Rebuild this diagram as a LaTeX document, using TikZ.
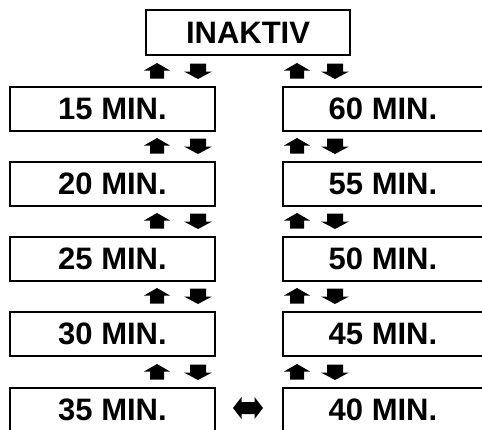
\documentclass[tikz,border=0pt]{standalone}
\usepackage{fontspec}
\setmainfont{Liberation Sans}
\begin{document}
\begin{tikzpicture}[x=1bp,y=1bp,
  box/.style={draw=black,line width=1.3bp,minimum height=44bp,inner sep=0pt,
    font=\fontsize{31bp}{34bp}\selectfont\bfseries},
  lbox/.style={box,minimum width=205bp},
  rbox/.style={box,minimum width=200bp},
  uparr/.pic={\fill (0,8) -- (13,0.5) -- (7,0.5) -- (7,-7.5) -- (-7,-7.5) -- (-7,0.5) -- (-13,0.5) -- cycle;},
  dnarr/.pic={\fill (0,-8) -- (14,-0.5) -- (8,-0.5) -- (8,7.5) -- (-8,7.5) -- (-8,-0.5) -- (-14,-0.5) -- cycle;},
  lrarr/.pic={\fill (-15,0) -- (-6.5,11) -- (-6.5,6) -- (6.5,6) -- (6.5,11) -- (15,0) -- (6.5,-11) -- (6.5,-6) -- (-6.5,-6) -- (-6.5,-11) -- cycle;}
]
\useasboundingbox (0,0) rectangle (482,-429);
\clip (0,0) rectangle (482,-429);
\node[box,minimum width=204bp,minimum height=45bp] (inaktiv) at (248,-32.5) {INAKTIV};
\node[lbox] (l1) at (112.5,-109) {15 MIN.};
\node[lbox] (l2) at (112.5,-184) {20 MIN.};
\node[lbox] (l3) at (112.5,-259) {25 MIN.};
\node[lbox] (l4) at (112.5,-334) {30 MIN.};
\node[lbox] (l5) at (112.5,-410) {35 MIN.};
\node[rbox] (r1) at (383,-109) {60 MIN.};
\node[rbox] (r2) at (383,-184) {55 MIN.};
\node[rbox] (r3) at (383,-259) {50 MIN.};
\node[rbox] (r4) at (383,-334) {45 MIN.};
\node[rbox] (r5) at (383,-410) {40 MIN.};
\foreach \y in {71,146,221,296,372}{
  \pic at (157,-\y) {uparr};
  \pic at (198,-\y) {dnarr};
  \pic at (297,-\y) {uparr};
  \pic at (335,-\y) {dnarr};
}
\pic at (248,-408) {lrarr};
\end{tikzpicture}
\end{document}
